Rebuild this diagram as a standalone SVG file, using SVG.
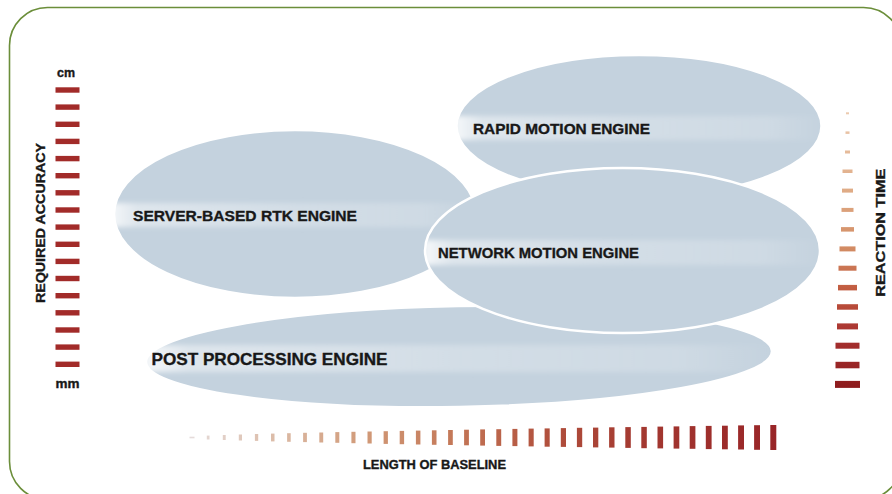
<svg xmlns="http://www.w3.org/2000/svg" width="892" height="494" viewBox="0 0 892 494">
<style>
.frame{fill:#ffffff;stroke:#6b8e3a;stroke-width:1.6}
.ell{fill:#c4d2de;stroke:#ffffff;stroke-width:2.5}
.lbl{font-family:"Liberation Sans Narrow","Liberation Sans",Arial,sans-serif;font-weight:bold;fill:#181818;stroke:#181818;stroke-width:0.35}
.band{fill:url(#bandGrad);filter:url(#soft)}
.lbar{fill:#a22b29}
.bbar{fill:url(#gBottom)}
.rbar{fill:url(#gRight)}
</style>
<defs>
<linearGradient id="bandGrad" x1="0" y1="0" x2="1" y2="0">
<stop offset="0" stop-color="#ffffff" stop-opacity="0.85"/>
<stop offset="0.07" stop-color="#ffffff" stop-opacity="0.45"/>
<stop offset="0.5" stop-color="#ffffff" stop-opacity="0.25"/>
<stop offset="0.85" stop-color="#ffffff" stop-opacity="0.18"/>
<stop offset="1" stop-color="#ffffff" stop-opacity="0"/>
</linearGradient>
<linearGradient id="gBottom" gradientUnits="userSpaceOnUse" x1="185" y1="0" x2="780" y2="0">
<stop offset="0" stop-color="#e6dede"/>
<stop offset="0.15" stop-color="#dcbca8"/>
<stop offset="0.3" stop-color="#d19a78"/>
<stop offset="0.45" stop-color="#c47858"/>
<stop offset="0.6" stop-color="#b2523e"/>
<stop offset="0.75" stop-color="#a43a31"/>
<stop offset="1" stop-color="#982427"/>
</linearGradient>
<linearGradient id="gRight" gradientUnits="userSpaceOnUse" x1="0" y1="110" x2="0" y2="390">
<stop offset="0" stop-color="#eccbb0"/>
<stop offset="0.3" stop-color="#dfaa84"/>
<stop offset="0.5" stop-color="#d28a62"/>
<stop offset="0.65" stop-color="#c0583e"/>
<stop offset="0.8" stop-color="#a83230"/>
<stop offset="1" stop-color="#8c1a1c"/>
</linearGradient>
<filter id="soft" x="-5%" y="-50%" width="110%" height="200%"><feGaussianBlur stdDeviation="2.5"/></filter>
<clipPath id="cServer"><ellipse cx="295" cy="214" rx="181" ry="84"/></clipPath>
<clipPath id="cRapid"><ellipse cx="639" cy="126" rx="182.5" ry="71"/></clipPath>
<clipPath id="cPost"><ellipse cx="459" cy="356.5" rx="313" ry="50.5" transform="rotate(-1 459 356.5)"/></clipPath>
<clipPath id="cNet"><ellipse cx="622.5" cy="250.5" rx="197.5" ry="82.5"/></clipPath>
</defs>

<rect class="frame" x="9.5" y="7.5" width="892" height="492" rx="38" ry="38"/>

<g id="node-server">
<ellipse class="ell" cx="295" cy="214" rx="181" ry="84"/>
<g clip-path="url(#cServer)"><rect class="band" x="110" y="203" width="370" height="24"/></g>
<text class="lbl" x="133" y="221" font-size="15.5" textLength="224" lengthAdjust="spacingAndGlyphs">SERVER-BASED RTK ENGINE</text>
</g>

<g id="node-rapid">
<ellipse class="ell" cx="639" cy="126" rx="182.5" ry="71"/>
<g clip-path="url(#cRapid)"><rect class="band" x="455" y="116" width="370" height="24"/></g>
<text class="lbl" x="473" y="134" font-size="15.5" textLength="177" lengthAdjust="spacingAndGlyphs">RAPID MOTION ENGINE</text>
</g>

<g id="node-post">
<ellipse class="ell" cx="459" cy="356.5" rx="313" ry="50.5" transform="rotate(-1 459 356.5)"/>
<g clip-path="url(#cPost)"><rect class="band" x="144" y="345" width="630" height="27"/></g>
<text class="lbl" x="151.5" y="365" font-size="17" textLength="236" lengthAdjust="spacingAndGlyphs">POST PROCESSING ENGINE</text>
</g>

<g id="node-network">
<ellipse class="ell" cx="622.5" cy="250.5" rx="197.5" ry="82.5"/>
<g clip-path="url(#cNet)"><rect class="band" x="424" y="240" width="398" height="25"/></g>
<text class="lbl" x="438" y="258" font-size="15.5" textLength="201" lengthAdjust="spacingAndGlyphs">NETWORK MOTION ENGINE</text>
</g>

<g id="axis-accuracy">
<text class="lbl" x="66" y="77" font-size="12" text-anchor="middle" textLength="18" lengthAdjust="spacingAndGlyphs">cm</text>
<rect class="lbar" x="55.5" y="87.3" width="24" height="5.4"/>
<rect class="lbar" x="55.5" y="104.4" width="24" height="5.4"/>
<rect class="lbar" x="55.5" y="121.6" width="24" height="5.4"/>
<rect class="lbar" x="55.5" y="138.7" width="24" height="5.4"/>
<rect class="lbar" x="55.5" y="155.9" width="24" height="5.4"/>
<rect class="lbar" x="55.5" y="173.0" width="24" height="5.4"/>
<rect class="lbar" x="55.5" y="190.1" width="24" height="5.4"/>
<rect class="lbar" x="55.5" y="207.3" width="24" height="5.4"/>
<rect class="lbar" x="55.5" y="224.4" width="24" height="5.4"/>
<rect class="lbar" x="55.5" y="241.6" width="24" height="5.4"/>
<rect class="lbar" x="55.5" y="258.7" width="24" height="5.4"/>
<rect class="lbar" x="55.5" y="275.8" width="24" height="5.4"/>
<rect class="lbar" x="55.5" y="293.0" width="24" height="5.4"/>
<rect class="lbar" x="55.5" y="310.1" width="24" height="5.4"/>
<rect class="lbar" x="55.5" y="327.3" width="24" height="5.4"/>
<rect class="lbar" x="55.5" y="344.4" width="24" height="5.4"/>
<rect class="lbar" x="55.5" y="361.6" width="24" height="5.4"/>
<text class="lbl" x="67.5" y="388" font-size="12" text-anchor="middle" textLength="24" lengthAdjust="spacingAndGlyphs">mm</text>
<text class="lbl" transform="translate(45 303) rotate(-90)" x="0" y="0" font-size="13" textLength="160" lengthAdjust="spacingAndGlyphs">REQUIRED ACCURACY</text>
</g>

<g id="axis-reaction">
<rect class="rbar" x="846.0" y="112.3" width="3" height="2"/>
<rect class="rbar" x="845.5" y="131.4" width="4" height="2.5"/>
<rect class="rbar" x="845.0" y="150.5" width="5" height="3"/>
<rect class="rbar" x="842.5" y="169.5" width="10" height="3.5"/>
<rect class="rbar" x="842.0" y="188.6" width="11" height="4"/>
<rect class="rbar" x="841.5" y="207.9" width="12" height="4"/>
<rect class="rbar" x="841.0" y="227.1" width="13" height="4.5"/>
<rect class="rbar" x="839.5" y="246.4" width="16" height="5"/>
<rect class="rbar" x="838.5" y="265.7" width="18" height="5"/>
<rect class="rbar" x="838.0" y="284.9" width="19" height="5.5"/>
<rect class="rbar" x="837.0" y="304.2" width="21" height="5.5"/>
<rect class="rbar" x="837.0" y="323.4" width="21" height="6"/>
<rect class="rbar" x="835.5" y="342.7" width="24" height="6"/>
<rect class="rbar" x="835.5" y="361.8" width="24" height="6.5"/>
<rect class="rbar" x="835.0" y="380.9" width="25" height="7"/>
<text class="lbl" transform="translate(885 296.7) rotate(-90)" x="0" y="0" font-size="13" textLength="128" lengthAdjust="spacingAndGlyphs">REACTION TIME</text>
</g>

<g id="axis-baseline">
<rect class="bbar" x="189.5" y="436.7" width="5" height="1.6"/>
<rect class="bbar" x="206.8" y="435.6" width="2.7" height="3.9"/>
<rect class="bbar" x="222.8" y="435.0" width="2.9" height="5.0"/>
<rect class="bbar" x="238.8" y="434.5" width="3.2" height="6.0"/>
<rect class="bbar" x="254.9" y="434.0" width="3.3" height="6.9"/>
<rect class="bbar" x="271.0" y="433.6" width="3.5" height="7.8"/>
<rect class="bbar" x="287.1" y="433.2" width="3.6" height="8.6"/>
<rect class="bbar" x="303.1" y="432.8" width="3.8" height="9.3"/>
<rect class="bbar" x="319.3" y="432.5" width="3.9" height="10.0"/>
<rect class="bbar" x="335.3" y="432.1" width="4.0" height="10.7"/>
<rect class="bbar" x="351.4" y="431.8" width="4.1" height="11.4"/>
<rect class="bbar" x="367.5" y="431.5" width="4.2" height="12.0"/>
<rect class="bbar" x="383.6" y="431.2" width="4.3" height="12.7"/>
<rect class="bbar" x="399.7" y="430.9" width="4.4" height="13.3"/>
<rect class="bbar" x="415.9" y="430.6" width="4.5" height="13.9"/>
<rect class="bbar" x="431.9" y="430.3" width="4.6" height="14.5"/>
<rect class="bbar" x="448.1" y="430.0" width="4.7" height="15.0"/>
<rect class="bbar" x="464.1" y="429.7" width="4.8" height="15.6"/>
<rect class="bbar" x="480.2" y="429.4" width="4.8" height="16.2"/>
<rect class="bbar" x="496.3" y="429.2" width="4.9" height="16.7"/>
<rect class="bbar" x="512.4" y="428.9" width="5.0" height="17.2"/>
<rect class="bbar" x="528.6" y="428.6" width="5.1" height="17.8"/>
<rect class="bbar" x="544.6" y="428.4" width="5.1" height="18.3"/>
<rect class="bbar" x="560.8" y="428.1" width="5.2" height="18.8"/>
<rect class="bbar" x="576.9" y="427.8" width="5.3" height="19.3"/>
<rect class="bbar" x="593.0" y="427.6" width="5.3" height="19.8"/>
<rect class="bbar" x="609.1" y="427.3" width="5.4" height="20.3"/>
<rect class="bbar" x="625.3" y="427.1" width="5.5" height="20.8"/>
<rect class="bbar" x="641.3" y="426.9" width="5.5" height="21.3"/>
<rect class="bbar" x="657.5" y="426.6" width="5.6" height="21.8"/>
<rect class="bbar" x="673.6" y="426.4" width="5.7" height="22.2"/>
<rect class="bbar" x="689.7" y="426.1" width="5.7" height="22.7"/>
<rect class="bbar" x="705.8" y="425.9" width="5.8" height="23.2"/>
<rect class="bbar" x="722.0" y="425.7" width="5.8" height="23.6"/>
<rect class="bbar" x="738.1" y="425.4" width="5.9" height="24.1"/>
<rect class="bbar" x="754.1" y="425.2" width="5.9" height="24.6"/>
<rect class="bbar" x="770.3" y="425.0" width="6.0" height="25.0"/>
<text class="lbl" x="363" y="468.5" font-size="12.5" textLength="143" lengthAdjust="spacingAndGlyphs">LENGTH OF BASELINE</text>
</g>
</svg>
